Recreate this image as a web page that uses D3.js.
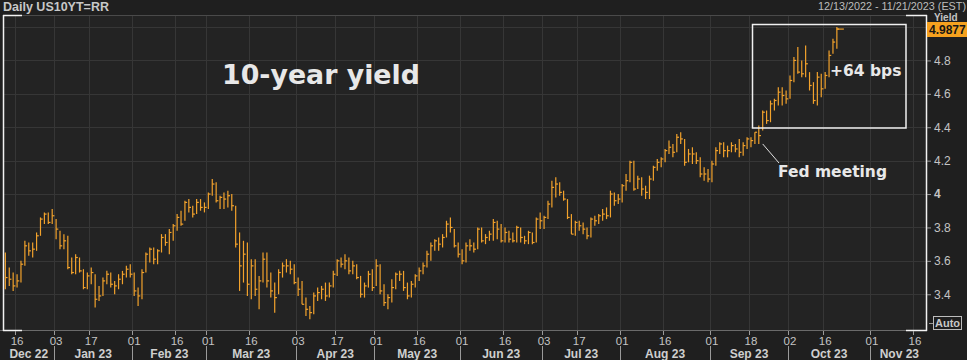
<!DOCTYPE html>
<html><head><meta charset="utf-8">
<script src="https://cdn.jsdelivr.net/npm/d3@7"></script>
<style>
html,body{margin:0;padding:0;background:#1f1f1f;}
svg{display:block;}
</style></head><body>
<svg id="c" width="967" height="360"></svg>
<script>
// ---- categories / calendar ----
const startDate = "2022-12-13";
const endDate = "2023-11-21";
const holidays = ["2022-12-26","2023-01-02","2023-01-16","2023-02-20","2023-05-29","2023-06-19","2023-07-04","2023-09-04","2023-10-09"];
const tickDates = ["2022-12-16","2023-01-03","2023-01-17","2023-02-01","2023-02-16","2023-03-01","2023-03-16","2023-04-03","2023-04-17","2023-05-01","2023-05-16","2023-06-01","2023-06-16","2023-07-03","2023-07-17","2023-08-01","2023-08-16","2023-09-01","2023-09-18","2023-10-02","2023-10-16","2023-11-01","2023-11-16"];
const tickLabels = ["16","03","17","01","16","01","16","03","17","01","16","01","16","03","17","01","16","01","18","02","16","01","16"];
const monthLabels = ["Dec 22","Jan 23","Feb 23","Mar 23","Apr 23","May 23","Jun 23","Jul 23","Aug 23","Sep 23","Oct 23","Nov 23"];
const yTicks = [3.4,3.6,3.8,4.0,4.2,4.4,4.6,4.8];
const yGrid = [3.4,3.6,3.8,4.0,4.2,4.4,4.6,4.8,5.0];
const lastValue = "4.9877";

// ---- series (daily high / low / close) ----
const highs = [3.65,3.56,3.53,3.52,3.60,3.72,3.71,3.71,3.77,3.86,3.89,3.89,3.91,
3.85,3.78,3.76,3.75,3.62,3.64,3.62,3.55,3.53,3.56,3.52,3.45,3.50,3.54,3.53,3.48,3.52,3.54,3.57,3.58,
3.53,3.44,3.55,3.65,3.68,3.68,3.67,3.76,3.76,3.79,3.82,3.88,3.90,3.96,3.97,3.93,3.97,3.97,3.95,
4.01,4.09,4.07,3.99,4.01,4.02,4.00,3.93,3.77,3.72,3.71,3.61,3.61,3.51,3.65,3.65,3.53,3.47,3.55,3.59,3.61,3.60,3.58,
3.50,3.48,3.38,3.33,3.41,3.44,3.45,3.47,3.47,3.54,3.61,3.62,3.64,3.62,3.60,3.58,3.51,3.47,3.54,3.55,
3.61,3.58,3.46,3.40,3.49,3.53,3.54,3.54,3.47,3.48,3.52,3.56,3.59,3.66,3.71,3.73,3.74,3.76,3.84,3.86,3.79,3.71,
3.67,3.71,3.73,3.71,3.80,3.80,3.76,3.78,3.85,3.84,3.82,3.80,3.78,3.77,3.81,3.80,3.75,3.78,3.77,3.86,3.89,
3.87,3.96,4.08,4.10,4.07,4.02,3.97,3.88,3.84,3.84,3.83,3.80,3.86,3.87,3.88,3.91,3.92,4.02,4.01,4.00,
4.06,4.12,4.20,4.20,4.11,4.10,4.05,4.11,4.17,4.21,4.22,4.27,4.32,4.30,4.36,4.37,4.33,4.27,4.28,4.25,4.22,4.16,4.15,
4.20,4.28,4.31,4.31,4.29,4.31,4.30,4.33,4.31,4.34,4.34,4.37,4.41,4.50,4.50,4.56,4.57,4.64,4.64,4.62,
4.71,4.82,4.88,4.80,4.89,4.73,4.67,4.73,4.72,4.73,4.86,4.93,5.00];
const lows = [3.43,3.45,3.42,3.44,3.47,3.57,3.63,3.62,3.66,3.75,3.82,3.82,3.82,
3.73,3.67,3.67,3.55,3.52,3.52,3.53,3.43,3.43,3.46,3.32,3.36,3.39,3.46,3.44,3.40,3.43,3.46,3.50,3.50,
3.39,3.33,3.37,3.53,3.59,3.58,3.58,3.65,3.69,3.64,3.72,3.78,3.81,3.84,3.89,3.86,3.88,3.90,3.89,
3.91,3.99,3.95,3.91,3.91,3.92,3.90,3.68,3.42,3.47,3.39,3.37,3.39,3.31,3.47,3.44,3.38,3.29,3.40,3.50,3.53,3.52,3.46,
3.39,3.34,3.27,3.25,3.28,3.36,3.37,3.36,3.38,3.44,3.51,3.56,3.55,3.52,3.52,3.49,3.38,3.38,3.44,3.42,
3.45,3.40,3.33,3.31,3.35,3.43,3.48,3.42,3.37,3.38,3.44,3.48,3.52,3.56,3.60,3.66,3.66,3.68,3.74,3.77,3.68,3.62,
3.58,3.59,3.66,3.65,3.67,3.71,3.70,3.72,3.72,3.73,3.71,3.71,3.71,3.71,3.71,3.71,3.70,3.70,3.70,3.71,3.79,
3.79,3.85,3.92,3.98,3.99,3.96,3.85,3.76,3.75,3.78,3.76,3.73,3.74,3.81,3.82,3.84,3.85,3.86,3.93,3.94,
3.95,4.02,4.07,4.02,4.03,3.99,3.97,3.97,4.08,4.14,4.16,4.19,4.24,4.22,4.25,4.30,4.17,4.19,4.18,4.18,4.10,4.08,4.07,
4.07,4.17,4.24,4.22,4.22,4.25,4.25,4.22,4.23,4.27,4.28,4.30,4.30,4.38,4.42,4.43,4.50,4.53,4.53,4.54,
4.57,4.67,4.72,4.70,4.70,4.62,4.54,4.53,4.58,4.63,4.70,4.84,4.87];
const closes = [3.50,3.49,3.45,3.48,3.58,3.69,3.66,3.67,3.75,3.85,3.88,3.83,3.87,
3.79,3.69,3.72,3.56,3.53,3.62,3.54,3.44,3.51,3.53,3.37,3.39,3.48,3.52,3.46,3.45,3.49,3.52,3.55,3.52,
3.42,3.39,3.53,3.64,3.67,3.61,3.66,3.74,3.71,3.77,3.81,3.86,3.82,3.95,3.92,3.88,3.95,3.92,3.92,
4.00,4.06,3.96,3.98,3.97,3.99,3.93,3.70,3.57,3.64,3.46,3.57,3.43,3.48,3.61,3.48,3.42,3.38,3.53,3.57,3.57,3.55,3.47,
3.43,3.34,3.31,3.29,3.39,3.41,3.43,3.39,3.45,3.52,3.60,3.58,3.60,3.54,3.57,3.50,3.40,3.45,3.52,3.44,
3.57,3.42,3.35,3.38,3.44,3.52,3.52,3.44,3.39,3.46,3.51,3.54,3.57,3.64,3.69,3.72,3.70,3.74,3.82,3.80,3.69,3.64,
3.60,3.69,3.69,3.67,3.79,3.72,3.74,3.76,3.83,3.79,3.72,3.77,3.73,3.72,3.80,3.74,3.72,3.77,3.71,3.85,3.84,
3.86,3.94,4.04,4.06,4.01,3.97,3.86,3.76,3.83,3.81,3.79,3.75,3.85,3.84,3.87,3.88,3.87,4.00,3.96,3.97,
4.05,4.08,4.19,4.03,4.09,4.03,4.01,4.09,4.16,4.19,4.21,4.26,4.28,4.25,4.34,4.33,4.19,4.24,4.24,4.20,4.12,4.12,4.09,
4.18,4.26,4.30,4.26,4.26,4.29,4.27,4.25,4.29,4.33,4.32,4.37,4.35,4.49,4.44,4.54,4.56,4.61,4.59,4.57,
4.68,4.80,4.73,4.72,4.78,4.65,4.56,4.70,4.63,4.71,4.83,4.91,4.9877];

// ---- build ----
const svg = d3.select("#c");
const W = 967, H = 360;
const pTop = 15, pBottom = 330, pLeft = 3, pRight = 927;
const parse = d3.timeParse("%Y-%m-%d");
const fmt = d3.timeFormat("%Y-%m-%d");
const hol = new Set(holidays);
const dates = d3.timeDay.range(parse(startDate), d3.timeDay.offset(parse(endDate), 1))
  .filter(d => d.getDay() !== 0 && d.getDay() !== 6 && !hol.has(fmt(d)))
  .map(fmt);

const x = d3.scaleBand().domain(dates).range([3.4, 928.6]);
const bw = x.bandwidth();
const cx = d => x(d) + bw / 2;
const y = d3.scaleLinear().domain([3.186, 5.072]).range([pBottom, pTop]);

svg.append("rect").attr("width", W).attr("height", H).attr("fill", "#1f1f1f");
svg.append("rect").attr("x", pLeft).attr("y", pTop).attr("width", pRight - pLeft).attr("height", pBottom - pTop).attr("fill", "#232323");

// grid
const grid = svg.append("g");
grid.selectAll("line.h").data(yGrid).join("line")
  .attr("x1", pLeft).attr("x2", pRight).attr("y1", d => Math.round(y(d)) + 0.5).attr("y2", d => Math.round(y(d)) + 0.5)
  .attr("stroke", "#363636").attr("stroke-width", 1);
grid.selectAll("line.v").data(tickDates).join("line")
  .attr("x1", d => Math.round(x(d)) + 0.5).attr("x2", d => Math.round(x(d)) + 0.5)
  .attr("y1", pTop).attr("y2", pBottom)
  .attr("stroke", "#363636").attr("stroke-width", 1);

// plot borders
svg.append("line").attr("x1", pLeft).attr("x2", pRight).attr("y1", pTop + 0.5).attr("y2", pTop + 0.5).attr("stroke", "#4a4a4a");
svg.append("line").attr("x1", 0).attr("x2", pRight).attr("y1", pBottom + 0.5).attr("y2", pBottom + 0.5).attr("stroke", "#6a6a6a");

// bars (high-low with close tick)
const n = closes.length;
const idx = d3.range(n);
const bars = svg.append("g").attr("stroke", "#f2a22c").attr("stroke-width", 1.2);
bars.selectAll("line.hl").data(idx).join("line")
  .attr("x1", i => cx(dates[i])).attr("x2", i => cx(dates[i]))
  .attr("y1", i => y(highs[i])).attr("y2", i => y(lows[i]));
bars.selectAll("line.c").data(idx).join("line")
  .attr("x1", i => cx(dates[i])).attr("x2", i => cx(dates[i]) + 2.2)
  .attr("y1", i => y(closes[i])).attr("y2", i => y(closes[i]));
bars.append("line")
  .attr("x1", cx(dates[n - 1])).attr("x2", cx(dates[n - 1]) + 7)
  .attr("y1", y(closes[n - 1])).attr("y2", y(closes[n - 1]));

// frame corners (white)
const fr = svg.append("g").attr("stroke", "#f2f2f2").attr("stroke-width", 1.5).attr("fill", "none");
fr.append("line").attr("x1", 3.5).attr("x2", 3.5).attr("y1", pTop).attr("y2", pBottom + 1);
fr.append("line").attr("x1", 3).attr("x2", 22).attr("y1", pTop + 0.5).attr("y2", pTop + 0.5);
fr.append("line").attr("x1", 3).attr("x2", 22).attr("y1", pBottom + 0.5).attr("y2", pBottom + 0.5);
fr.append("line").attr("x1", pRight - 0.5).attr("x2", pRight - 0.5).attr("y1", pTop).attr("y2", pBottom + 1);
fr.append("line").attr("x1", 906).attr("x2", pRight).attr("y1", pTop + 0.5).attr("y2", pTop + 0.5);
fr.append("line").attr("x1", 906).attr("x2", pRight).attr("y1", pBottom + 0.5).attr("y2", pBottom + 0.5);

// y axis (right)
const yAxis = d3.axisRight(y).tickValues(yTicks).tickSize(4).tickPadding(3)
  .tickFormat(d => d === 4 ? "4" : d3.format(".1f")(d));
const ya = svg.append("g").attr("transform", `translate(${pRight},0)`).call(yAxis);
ya.select(".domain").remove();
ya.selectAll(".tick line").attr("stroke", "#9a9a9a");
ya.selectAll(".tick text").attr("fill", "#c4c4c4").attr("font-family", "Liberation Sans, Arial, sans-serif")
  .attr("font-size", 12).attr("font-weight", d => d === 4 ? "bold" : "normal");

// x axis ticks and labels
const xa = svg.append("g");
xa.selectAll("line").data(tickDates).join("line")
  .attr("x1", d => Math.round(x(d)) + 0.5).attr("x2", d => Math.round(x(d)) + 0.5)
  .attr("y1", pBottom + 1).attr("y2", pBottom + 5).attr("stroke", "#9a9a9a");
xa.selectAll("text").data(tickDates).join("text")
  .attr("x", d => cx(d)).attr("y", 345).attr("text-anchor", "middle")
  .attr("fill", "#c4c4c4").attr("font-family", "Liberation Sans, Arial, sans-serif").attr("font-size", 11.5)
  .text((d, i) => tickLabels[i]);

// month labels and separators
const monthStarts = [];
dates.forEach((d, i) => { if (i === 0 || d.slice(0, 7) !== dates[i - 1].slice(0, 7)) monthStarts.push(i); });
const mpos = monthStarts.map((s, k) => {
  const a = x(dates[s]);
  const b = k + 1 < monthStarts.length ? x(dates[monthStarts[k + 1]]) : 928.6;
  return { a, b, c: (a + b) / 2, k };
});
const mg = svg.append("g");
mg.selectAll("line").data(mpos.slice(1)).join("line")
  .attr("x1", d => Math.round(d.a) + 0.5).attr("x2", d => Math.round(d.a) + 0.5)
  .attr("y1", 346).attr("y2", 360).attr("stroke", "#9a9a9a");
mg.selectAll("text").data(mpos).join("text")
  .attr("x", d => d.c).attr("y", 358).attr("text-anchor", "middle")
  .attr("fill", "#cfcfcf").attr("font-family", "Liberation Sans, Arial, sans-serif").attr("font-size", 12).attr("font-weight", "bold")
  .text(d => monthLabels[d.k]);

// header texts
svg.append("text").attr("x", 3).attr("y", 11).attr("fill", "#c8c8c8")
  .attr("font-family", "Liberation Sans, Arial, sans-serif").attr("font-size", 12.5).attr("font-weight", "bold")
  .text("Daily US10YT=RR");
svg.append("text").attr("x", 966).attr("y", 10).attr("text-anchor", "end").attr("fill", "#bdbdbd")
  .attr("font-family", "Liberation Sans, Arial, sans-serif").attr("font-size", 10.8)
  .text("12/13/2022 - 11/21/2023 (EST)");
svg.append("text").attr("x", 934).attr("y", 21).attr("fill", "#c4c4c4")
  .attr("font-family", "Liberation Sans, Arial, sans-serif").attr("font-size", 10).attr("font-weight", "bold")
  .text("Yield");

// last value badge
svg.append("rect").attr("x", 927).attr("y", 22).attr("width", 40).attr("height", 15).attr("fill", "#f5a11f");
svg.append("text").attr("x", 929).attr("y", 34).attr("fill", "#161616")
  .attr("font-family", "Liberation Sans, Arial, sans-serif").attr("font-size", 12).attr("font-weight", "bold")
  .text(lastValue);

// Auto box
svg.append("line").attr("x1", 929).attr("x2", 933).attr("y1", 323.5).attr("y2", 323.5).attr("stroke", "#9a9a9a");
svg.append("rect").attr("x", 933.5).attr("y", 316.5).attr("width", 28).attr("height", 13).attr("fill", "none").attr("stroke", "#bdbdbd");
svg.append("text").attr("x", 947.5).attr("y", 327).attr("text-anchor", "middle").attr("fill", "#c8c8c8")
  .attr("font-family", "Liberation Sans, Arial, sans-serif").attr("font-size", 11).attr("font-weight", "bold")
  .text("Auto");

// annotations
svg.append("text").attr("x", 222).attr("y", 84).attr("fill", "#e8e8e8")
  .attr("font-family", "DejaVu Sans, sans-serif").attr("font-size", 26.8).attr("font-weight", "bold")
  .text("10-year yield");
svg.append("rect").attr("x", 752.5).attr("y", 24.5).attr("width", 153.5).attr("height", 103.5)
  .attr("fill", "none").attr("stroke", "#f0f0f0").attr("stroke-width", 1.5);
svg.append("text").attr("x", 830).attr("y", 76).attr("fill", "#e8e8e8")
  .attr("font-family", "DejaVu Sans, sans-serif").attr("font-size", 15.5).attr("font-weight", "bold")
  .text("+64 bps");
svg.append("line").attr("x1", cx("2023-09-21")).attr("y1", y(4.30)).attr("x2", 779).attr("y2", 163)
  .attr("stroke", "#e0e0e0").attr("stroke-width", 1);
svg.append("text").attr("x", 778).attr("y", 177).attr("fill", "#e8e8e8")
  .attr("font-family", "DejaVu Sans, sans-serif").attr("font-size", 15.5).attr("font-weight", "bold")
  .text("Fed meeting");
</script>
</body></html>
